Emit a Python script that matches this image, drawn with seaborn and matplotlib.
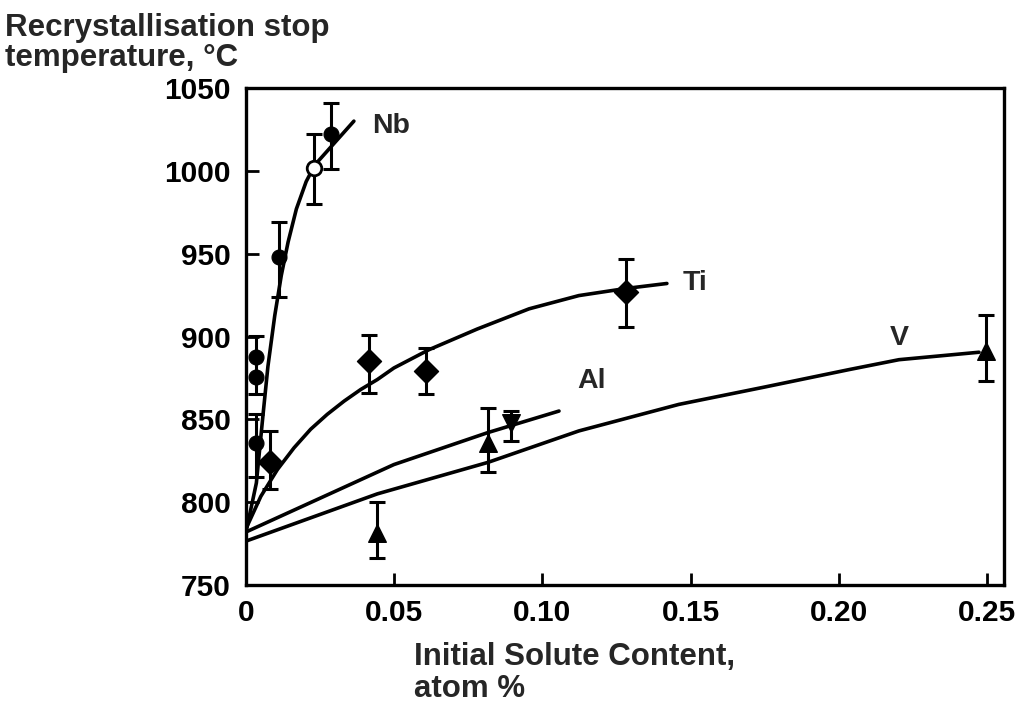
import numpy as np
import pandas as pd
import matplotlib
matplotlib.use("Agg")
import matplotlib.pyplot as plt
import seaborn as sns

# ---------------- data ----------------
# Fitted curves
nb_curve_x = [0.0, 0.0035, 0.0057, 0.0074, 0.0097, 0.0119, 0.0142, 0.0170, 0.0203, 0.0232, 0.0364]
nb_curve_y = [782, 811.6, 852, 882, 912.6, 936.8, 957, 977, 993.5, 1003.5, 1030]

ti_curve_x = [0.0, 0.0050, 0.0106, 0.0162, 0.0218, 0.0274, 0.0331, 0.0387, 0.0443, 0.0499,
              0.0617, 0.0780, 0.0955, 0.1123, 0.1282, 0.1420]
ti_curve_y = [784, 803.5, 819.7, 832.8, 844, 853, 861, 868, 874, 881,
              892, 904.5, 916.7, 924.7, 929, 932]

al_curve_x = [0.0, 0.0499, 0.0816, 0.1056]
al_curve_y = [782, 822.7, 842, 855]

v_curve_x = [0.0, 0.0443, 0.0816, 0.1123, 0.1460, 0.1750, 0.2034, 0.2203, 0.2473]
v_curve_y = [776.5, 805, 824, 843, 859, 869.5, 880, 886, 890.5]

# Measured points with error bars
nb_x = [0.0033, 0.0033, 0.0033, 0.0110, 0.0286]
nb_y = [887.6, 875.5, 836, 948, 1022]
nb_lo = [865, np.nan, 815, 924, 1001]
nb_hi = [900.5, np.nan, 853, 969, 1041]

nb_open_x = [0.0230]
nb_open_y = [1001.5]
nb_open_lo = [980]
nb_open_hi = [1022]

ti_x = [0.0081, 0.0415, 0.0607, 0.1282]
ti_y = [824, 885, 879, 927]
ti_lo = [808, 866, 865, 906]
ti_hi = [843, 901, 893, 947]

v_x = [0.0442, 0.0816, 0.2497]
v_y = [781.5, 836, 891]
v_lo = [766, 818, 873]
v_hi = [800, 857, 913]

al_x = [0.0894]
al_y = [848]
al_lo = [837]
al_hi = [855]

element_labels = ["Nb", "Ti", "Al", "V"]
label_x = [0.0425, 0.1474, 0.1117, 0.2173]
label_y = [1027, 932, 873, 899]

x_ticks = [0, 0.05, 0.10, 0.15, 0.20, 0.25]
x_tick_labels = ["0", "0.05", "0.10", "0.15", "0.20", "0.25"]
y_ticks = [750, 800, 850, 900, 950, 1000, 1050]
y_tick_labels = ["750", "800", "850", "900", "950", "1000", "1050"]

ylabel_text = "Recrystallisation stop\ntemperature, \u00b0C"
xlabel_text = "Initial Solute Content,\natom %"

# ---------------- plotting ----------------
sns.set_style("ticks")
FAM = ["Liberation Sans", "DejaVu Sans"]
plt.rcParams["font.family"] = FAM

fig = plt.figure(figsize=(10.23, 7.03), dpi=100)
ax = fig.add_axes([246 / 1023, 1 - 585 / 703, (1004 - 246) / 1023, (585 - 88) / 703])

curves = pd.concat([
    pd.DataFrame({"x": nb_curve_x, "y": nb_curve_y, "el": "Nb"}),
    pd.DataFrame({"x": ti_curve_x, "y": ti_curve_y, "el": "Ti"}),
    pd.DataFrame({"x": al_curve_x, "y": al_curve_y, "el": "Al"}),
    pd.DataFrame({"x": v_curve_x, "y": v_curve_y, "el": "V"}),
])
sns.lineplot(data=curves, x="x", y="y", units="el", estimator=None, color="black",
             linewidth=2.6, ax=ax, legend=False, sort=True)

def err(ax, xs, ys, lo, hi):
    xs = np.asarray(xs, float); ys = np.asarray(ys, float)
    lo = np.asarray(lo, float); hi = np.asarray(hi, float)
    m = ~np.isnan(lo)
    ax.errorbar(xs[m], ys[m], yerr=[ys[m] - lo[m], hi[m] - ys[m]], fmt="none",
                ecolor="black", elinewidth=2.2, capsize=5.5, capthick=2.2, zorder=3)

err(ax, nb_x, nb_y, nb_lo, nb_hi)
err(ax, nb_open_x, nb_open_y, nb_open_lo, nb_open_hi)
err(ax, ti_x, ti_y, ti_lo, ti_hi)
err(ax, v_x, v_y, v_lo, v_hi)
err(ax, al_x, al_y, al_lo, al_hi)

sns.scatterplot(x=nb_x, y=nb_y, marker="o", s=115, color="black", edgecolor="black", ax=ax, zorder=4)
sns.scatterplot(x=nb_open_x, y=nb_open_y, marker="o", s=110, color="white", edgecolor="black",
                linewidth=2, ax=ax, zorder=4)
sns.scatterplot(x=ti_x, y=ti_y, marker="D", s=150, color="black", edgecolor="black", ax=ax, zorder=4)
sns.scatterplot(x=v_x, y=v_y, marker="^", s=160, color="black", edgecolor="black", ax=ax, zorder=4)
sns.scatterplot(x=al_x, y=al_y, marker="v", s=160, color="black", edgecolor="black", ax=ax, zorder=4)

for t, lx, ly in zip(element_labels, label_x, label_y):
    ax.text(lx, ly, t, ha="left", va="center", fontsize=20.5, fontweight="bold", family=FAM)

ax.set_xlim(0, (1004 - 246) / 2964)
ax.set_ylim(750, 1050)
ax.set_xticks(x_ticks)
ax.set_xticklabels(x_tick_labels)
ax.set_yticks(y_ticks)
ax.set_yticklabels(y_tick_labels)
ax.set_xlabel("")
ax.set_ylabel("")
ax.tick_params(direction="in", length=9, width=2, labelsize=21.5, pad=10, colors="black")
ax.tick_params(axis="y", pad=11)
for lab in ax.get_xticklabels() + ax.get_yticklabels():
    lab.set_fontweight("bold")
for sp in ax.spines.values():
    sp.set_visible(True)
    sp.set_linewidth(2.4)
    sp.set_color("black")

fig.text(5 / 1023, 1 - 13 / 703, ylabel_text, ha="left", va="top", fontsize=22.5,
         fontweight="bold", linespacing=1.0, family=FAM)
fig.text(414 / 1023, 1 - 642 / 703, xlabel_text, ha="left", va="top", fontsize=22.5,
         fontweight="bold", linespacing=1.1, family=FAM)

fig.savefig("out.png", dpi=100, facecolor="white")
